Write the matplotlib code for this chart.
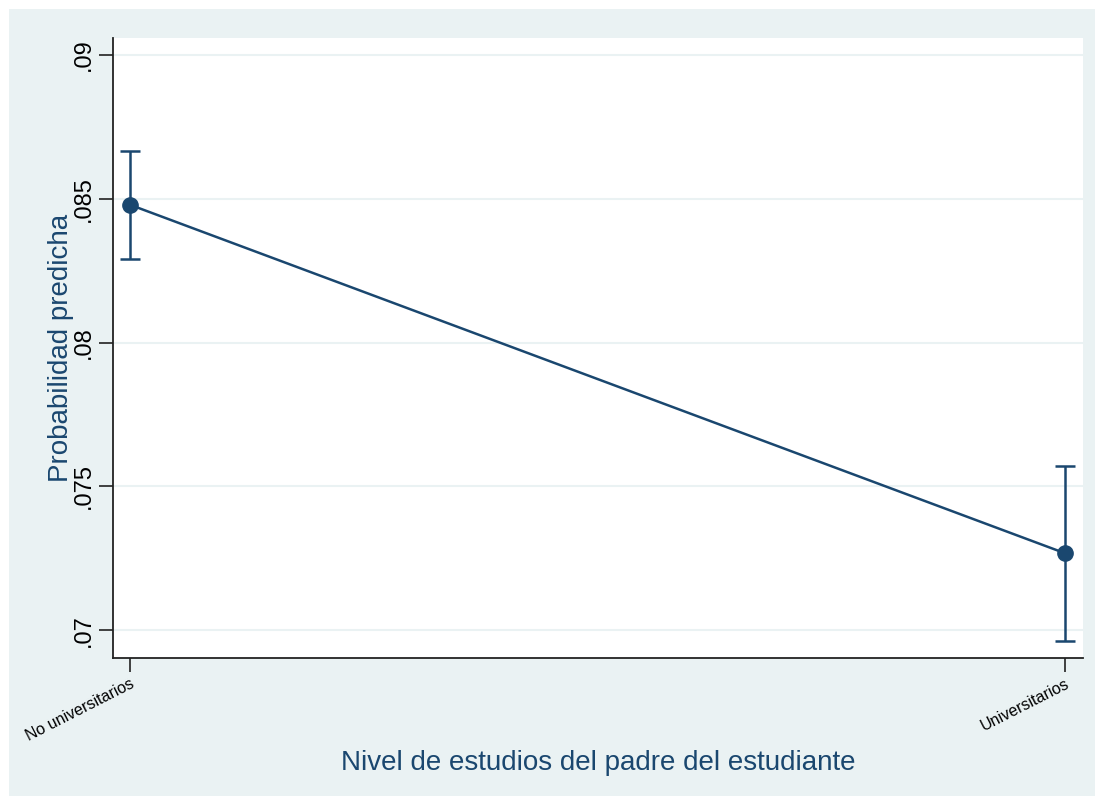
import matplotlib
matplotlib.use("Agg")
import matplotlib.pyplot as plt
from matplotlib.patches import Rectangle

plt.rcParams['font.family'] = ['Liberation Sans', 'DejaVu Sans']

categories = ["No universitarios", "Universitarios"]
margins = [0.08479, 0.07267]
ci_low = [0.08292, 0.06962]
ci_high = [0.08667, 0.07569]
yticks = [0.07, 0.075, 0.08, 0.085, 0.09]
ytick_labels = [".07", ".075", ".08", ".085", ".09"]

navy = "#1A476F"
bg = "#EAF2F3"

fig = plt.figure(figsize=(11, 8.05), dpi=100)
fig.patches.append(Rectangle((9 / 1100, 9 / 805), 1086 / 1100, 787 / 805,
                             transform=fig.transFigure, facecolor=bg,
                             edgecolor="none", zorder=-10))

ax = fig.add_axes([113 / 1100, 1 - 658 / 805, 970 / 1100, 620 / 805])
ax.set_facecolor("white")

x = list(range(len(categories)))
for yv in yticks:
    ax.axhline(yv, color=bg, lw=1.5, zorder=0)

err_lo = [m - l for m, l in zip(margins, ci_low)]
err_hi = [h - m for m, h in zip(margins, ci_high)]
ax.errorbar(x, margins, yerr=[err_lo, err_hi], fmt="none", ecolor=navy,
            elinewidth=1.8, capsize=7, capthick=1.8, zorder=2)
ax.plot(x, margins, color=navy, lw=1.8, marker="o", markersize=11, zorder=3)

ax.set_xlim(-0.0182, 1.019)
ax.set_ylim(0.06903, 0.09059)
ax.set_yticks(yticks)
ax.set_yticklabels(ytick_labels, rotation=90, va="center", fontsize=17)
ax.set_xticks(x)
ax.set_xticklabels(categories, rotation=27, ha="right", rotation_mode="anchor",
                   fontsize=11.5)

for s in ["top", "right"]:
    ax.spines[s].set_visible(False)
for s in ["left", "bottom"]:
    ax.spines[s].set_linewidth(1.3)
    ax.spines[s].set_color("#222222")
ax.tick_params(axis="both", length=10, width=1.2, color="#222222", pad=3)

ax.set_ylabel("Probabilidad predicha", color=navy, fontsize=20)
ax.set_xlabel("Nivel de estudios del padre del estudiante", color=navy,
              fontsize=20)
ax.yaxis.set_label_coords(-0.0536, 0.5)
ax.xaxis.set_label_coords(0.5, -0.17)
ax.xaxis.label.set_va("center")
ax.yaxis.label.set_va("center")

fig.savefig("out.png", dpi=100)
